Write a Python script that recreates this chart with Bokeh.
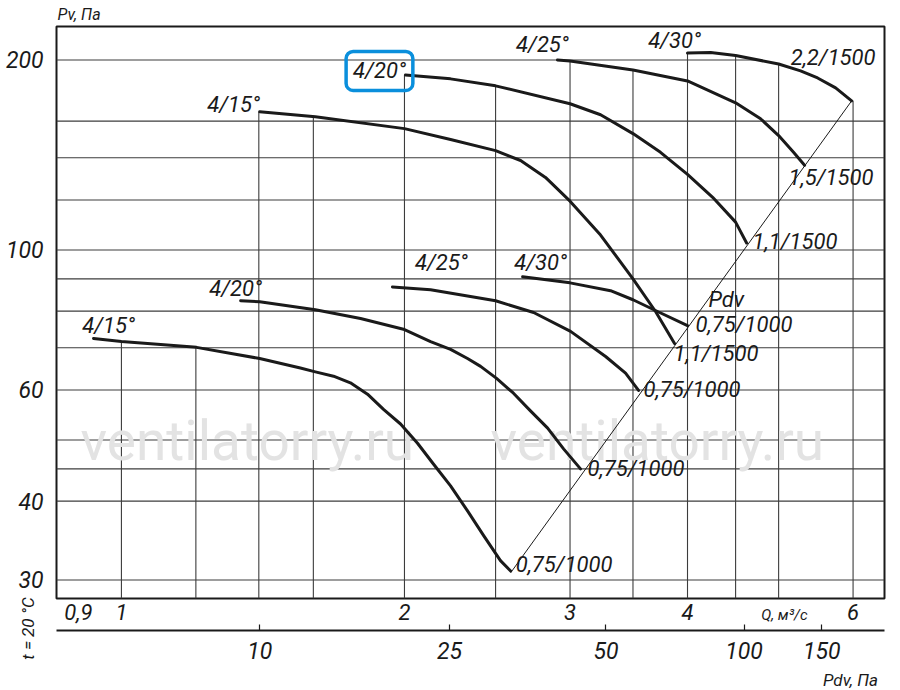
import math
import numpy as np
from bokeh.plotting import figure
from bokeh.models import LogAxis, FixedTicker, Label, ColumnDataSource, Title
from bokeh.core.properties import value
from bokeh.embed import file_html
from bokeh.resources import INLINE

# ---------------- data ----------------
# Q (m3/s) and Pv (Pa); 1000 rpm family (0,75 kW)
q_15_1000 = [0.934, 1.0, 1.202, 1.403, 1.550, 1.608, 1.681, 1.752, 1.827, 1.900, 1.981, 2.065, 2.147, 2.239, 2.334, 2.427, 2.530, 2.594]
pv_15_1000 = [72.4, 71.6, 70.1, 67.3, 65.0, 64.1, 63.1, 61.6, 59.1, 55.9, 53.0, 49.4, 45.8, 42.3, 38.6, 35.3, 32.2, 31.0]
q_20_1000 = [1.339, 1.403, 1.608, 1.796, 2.0, 2.132, 2.239, 2.334, 2.410, 2.506, 2.612, 2.723, 2.840, 2.953, 3.078]
pv_20_1000 = [83.1, 82.8, 80.4, 77.9, 74.8, 71.6, 69.6, 67.3, 65.4, 62.6, 59.3, 55.6, 52.2, 48.4, 45.0]
q_25_1000 = [1.942, 2.132, 2.50, 2.744, 3.004, 3.273, 3.437, 3.548]
pv_25_1000 = [87.4, 86.5, 83.1, 79.6, 74.3, 67.8, 63.8, 59.9]
q_30_1000 = [2.671, 3.0, 3.313, 3.5, 3.717, 4.0]
pv_30_1000 = [90.7, 88.7, 86.2, 83.4, 79.9, 75.9]
# 1500 rpm family
q_15_1500 = [1.403, 1.608, 2.0, 2.239, 2.50, 2.658, 2.825, 3.0, 3.233, 3.5, 3.699, 3.875]
pv_15_1500 = [165.6, 162.6, 155.7, 149.6, 143.7, 138.6, 130.3, 119.5, 105.6, 90.0, 79.9, 71.1]
q_20_1500 = [2.005, 2.239, 2.50, 3.0, 3.233, 3.5, 3.744, 4.0, 4.254, 4.5, 4.623]
pv_20_1500 = [189.4, 186.7, 182.0, 170.5, 163.8, 152.9, 142.8, 131.8, 121.2, 110.7, 102.6]
q_25_1500 = [2.909, 3.0, 3.5, 4.0, 4.5, 4.784, 5.0, 5.186, 5.328]
pv_25_1500 = [200.0, 199.3, 192.9, 185.3, 171.1, 161.4, 151.8, 142.8, 136.2]
q_30_1500 = [4.0, 4.233, 4.5, 5.0, 5.276, 5.501, 5.749, 5.979]
pv_30_1500 = [205.1, 205.5, 203.3, 197.1, 192.2, 187.3, 180.7, 172.3]
# dynamic pressure line through the curve ends
q_pdv = [2.594, 5.979]
pv_pdv = [30.8, 172.3]

blade_labels = ["4/15°", "4/20°", "4/25°", "4/30°"]
motor_labels_1000 = ["0,75/1000", "0,75/1000", "0,75/1000", "0,75/1000"]
motor_labels_1500 = ["1,1/1500", "1,1/1500", "1,5/1500", "2,2/1500"]

q_ticks = [0.9, 1, 2, 3, 4, 6]
q_tick_labels = ["0,9", "1", "2", "3", "4", "6"]
pv_ticks = [30, 40, 60, 100, 200]
pv_tick_labels = ["30", "40", "60", "100", "200"]
pdv_tick_labels = ["10", "25", "50", "100", "150"]
pdv_tick_q = [1.403, 2.233, 3.276, 4.594, 5.556]
q_grid = [1, 1.2, 1.4, 1.6, 2, 2.5, 3, 3.5, 4, 4.5, 5, 6]
pv_grid = [30, 40, 45, 50, 60, 70, 80, 90, 100, 120, 140, 160, 200]

# ---------------- figure ----------------
X0, X1 = 0.853, 6.48
Y0, Y1 = 28.04, 226.0
FONT = "Roboto"
INK = "#1a1a1a"

p = figure(width=892, height=690, x_axis_type="log", y_axis_type="log",
           x_range=(X0, X1), y_range=(Y0, Y1), output_backend="svg",
           toolbar_location=None, x_axis_location=None, y_axis_location=None,
           min_border_left=56, min_border_right=8, min_border_top=23, min_border_bottom=92)
p.grid.visible = False
p.outline_line_color = INK
p.outline_line_width = 2
p.background_fill_color = "white"
p.border_fill_color = "white"

def style_labels(ax, size):
    ax.major_label_text_font = FONT
    ax.major_label_text_font_style = "italic"
    ax.major_label_text_font_size = size
    ax.major_label_text_color = INK

TXT_SMALL = dict(text_font=FONT, text_font_style="italic", text_color=INK,
                 text_align="center", text_baseline="middle")

# side-panel labels; a negative padding keeps their slots thin (fallback: spacer axis labels)
try:
    t_label = Label(x=26, y=-30, x_units="screen", y_units="screen", text="t = 20 °C",
                    angle=math.pi / 2, text_font_size="17px", padding=-8, **TXT_SMALL)
    q_label = Label(x=728, y=19, x_units="screen", y_units="screen", text="Q, м³/с",
                    text_font_size="15px", padding=-6, **TXT_SMALL)
    thin_slots = True
except Exception:
    t_label = Label(x=24, y=-30, x_units="screen", y_units="screen", text="t = 20 °C",
                    angle=math.pi / 2, text_font_size="17px", **TXT_SMALL)
    q_label = Label(x=728, y=16, x_units="screen", y_units="screen", text="Q, м³/с",
                    text_font_size="15px", **TXT_SMALL)
    thin_slots = False

# ---- left side: Pv axis, then the rotated "t = 20 °C" ----
yax = LogAxis(ticker=FixedTicker(ticks=pv_ticks),
              major_label_overrides=dict(zip(pv_ticks, pv_tick_labels)),
              axis_line_color=None, major_tick_line_color=None, minor_tick_line_color=None,
              major_label_standoff=7)
if not thin_slots:
    yax.update(axis_label="\u200b", axis_label_text_font_size="1px", axis_label_standoff=-25)
style_labels(yax, "23px")
p.add_layout(yax, "left")
p.add_layout(t_label, "left")

# ---- bottom: Q axis, "Q, м³/с", Pdv axis, "Pdv, Па" ----
qax = LogAxis(ticker=FixedTicker(ticks=q_ticks),
              major_label_overrides=dict(zip(q_ticks, q_tick_labels)),
              axis_line_color=None, major_tick_line_color=None, minor_tick_line_color=None,
              major_tick_in=0, major_tick_out=0, major_label_standoff=5)
if not thin_slots:
    qax.update(axis_label="\u200b", axis_label_text_font_size="6px", axis_label_standoff=-19)
style_labels(qax, "22px")
p.add_layout(qax, "below")
p.add_layout(q_label, "below")

pdvax = LogAxis(ticker=FixedTicker(ticks=pdv_tick_q),
                major_label_overrides=dict(zip(pdv_tick_q, pdv_tick_labels)),
                axis_line_color=INK, axis_line_width=2,
                major_tick_line_color=INK, major_tick_line_width=1.2,
                major_tick_in=6, major_tick_out=0, minor_tick_line_color=None,
                major_label_standoff=11)
style_labels(pdvax, "23px")
p.add_layout(pdvax, "below")
p.add_layout(Label(x=794, y=2, x_units="screen", y_units="screen", text="Pdv, Па",
                   text_font_size="17px", **TXT_SMALL), "below")

# ---- top: "Pv, Па" ----
p.add_layout(Title(text="Pv, Па", align="left", offset=1, standoff=5, text_font=FONT,
                   text_font_style="italic", text_color=INK, text_font_size="16px"), "above")

curves = [(q_15_1000, pv_15_1000), (q_20_1000, pv_20_1000), (q_25_1000, pv_25_1000), (q_30_1000, pv_30_1000),
          (q_15_1500, pv_15_1500), (q_20_1500, pv_20_1500), (q_25_1500, pv_25_1500), (q_30_1500, pv_30_1500)]

# ---------------- grid (clipped under the upper envelope) ----------------
def envelope(q):
    vals = []
    for cq, cpv in curves:
        if cq[0] * 0.99 <= q <= cq[-1] * 1.01:
            vals.append(10 ** np.interp(math.log10(q), np.log10(cq), np.log10(cpv)))
    return max(vals) if vals else Y1

def right_end(v):
    i = int(np.argmax(pv_30_1500))
    dq = np.array(q_30_1500[i:])
    dpv = np.array(pv_30_1500[i:])
    if dpv.min() <= v <= dpv.max():
        return 10 ** np.interp(math.log10(v), np.log10(dpv[::-1]), np.log10(dq[::-1]))
    return X1

GRID = "#3c3c3c"
p.segment(x0=q_grid, y0=[Y0] * len(q_grid), x1=q_grid, y1=[envelope(q) for q in q_grid],
          line_color=GRID, line_width=1.1, level="underlay")
p.segment(x0=[X0] * len(pv_grid), y0=pv_grid, x1=[right_end(v) for v in pv_grid], y1=pv_grid,
          line_color=GRID, line_width=1.1, level="underlay")

# ---------------- watermark ----------------
for wx in (24, 434):
    p.add_layout(Label(x=wx, y=158, x_units="screen", y_units="screen", text="ventilatorry.ru",
                       text_font=FONT, text_font_size="55px", text_align="left",
                       text_baseline="alphabetic", text_color="#e3e3e3", level="underlay"))

# ---------------- curves ----------------
for cq, cpv in curves:
    p.line(cq, cpv, line_color=INK, line_width=3, line_cap="round", line_join="round")
p.line(q_pdv, pv_pdv, line_color=INK, line_width=1)

# ---------------- curve labels ----------------
TXT = dict(text_font=value(FONT), text_font_style="italic", text_font_size="22px", text_color=INK)

start_off = [(15, -13), (-5, -12), (49, -24), (18, -14), (-26, -7), None, (-15, -15), (-13, -13)]
start_text = blade_labels + blade_labels
sx, sy, st, sdx, sdy = [], [], [], [], []
for (cq, cpv), off, t in zip(curves, start_off, start_text):
    if off is None:
        continue
    sx.append(cq[0]); sy.append(cpv[0]); st.append(t); sdx.append(off[0]); sdy.append(off[1])
p.text(x="x", y="y", text="t", x_offset="dx", y_offset="dy",
       source=ColumnDataSource(dict(x=sx, y=sy, t=st, dx=sdx, dy=sdy)),
       text_align="center", text_baseline="middle", **TXT)

end_off = [(5, -6), (7, 0), (5, -1), (8, -1), (-1, 10), (6, -1), (-16, 12), (-61, -43)]
end_text = motor_labels_1000 + motor_labels_1500
ex = [c[0][-1] for c in curves] + [q_30_1000[-1]]
ey = [c[1][-1] for c in curves] + [pv_30_1000[-1]]
et = end_text + ["Pdv"]
edx = [o[0] for o in end_off] + [21]
edy = [o[1] for o in end_off] + [-26]
p.text(x="x", y="y", text="t", x_offset="dx", y_offset="dy",
       source=ColumnDataSource(dict(x=ex, y=ey, t=et, dx=edx, dy=edy)),
       text_align="left", text_baseline="middle", **TXT)

# highlighted label (blue rounded box)
box_kw = dict(x=q_20_1500[0], y=pv_20_1500[0], x_offset=-26, y_offset=4, text=blade_labels[1],
              text_font=FONT, text_font_style="italic", text_font_size="22px", text_color=INK,
              text_align="center", text_baseline="middle",
              border_line_color="#0a8fdc", border_line_width=3.5)
try:
    hl = Label(padding=7, border_radius=7, **box_kw)
except Exception:
    hl = Label(**box_kw)
p.add_layout(hl)

open("out.html", "w").write(file_html(p, INLINE))
